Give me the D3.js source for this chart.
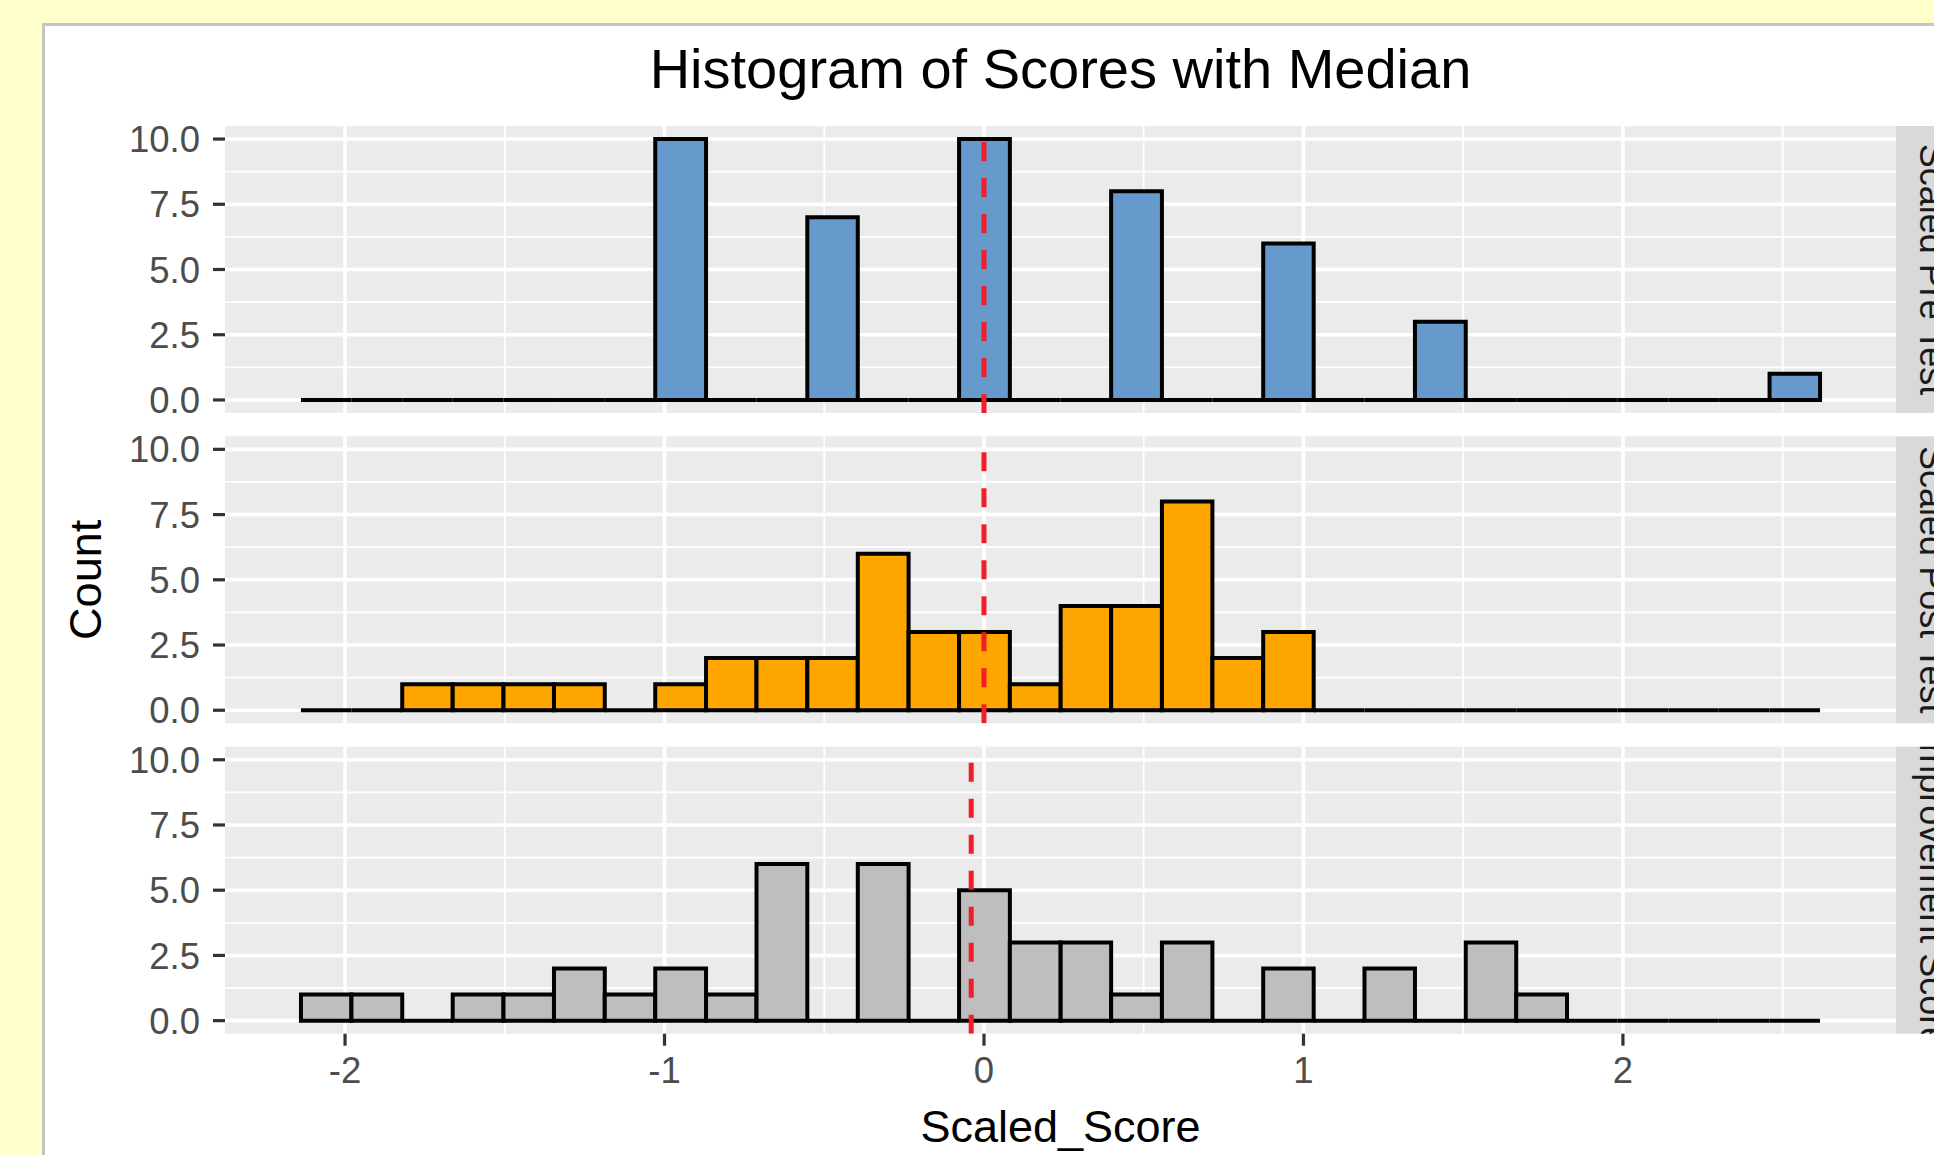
<!DOCTYPE html>
<html>
<head>
<meta charset="utf-8">
<script src="https://cdn.jsdelivr.net/npm/d3@7"></script>
<style>
  html, body { margin: 0; padding: 0; background: #FFFFCC; overflow: hidden; }
  svg { display: block; font-family: "Liberation Sans", Arial, sans-serif; }
</style>
</head>
<body>
<script>
// facet labels, fills and medians
var panels = ["Scaled Pre Test", "Scaled Post Test", "Improvement Score"];
var fills = ["#6699CC", "#FFA500", "#BEBEBE"];
var medians = [0.0, 0.0, -0.04];

// 30 bins, left edges + last right edge
var binEdges = [-2.138, -1.980, -1.821, -1.663, -1.504, -1.346, -1.187, -1.029, -0.870, -0.712,
                -0.553, -0.395, -0.236, -0.078, 0.081, 0.240, 0.398, 0.557, 0.715, 0.874,
                1.032, 1.191, 1.349, 1.508, 1.666, 1.825, 1.983, 2.142, 2.300, 2.459, 2.617];

var preCounts     = [0,0,0,0,0,0,0,10,0,0, 7,0,0,10,0,0,8,0,0,6, 0,0,3,0,0,0,0,0,0,1];
var postCounts    = [0,0,1,1,1,1,0,1,2,2, 2,6,3,3,1,4,4,8,2,3, 0,0,0,0,0,0,0,0,0,0];
var improveCounts = [1,1,0,1,1,2,1,2,1,6, 0,6,0,5,3,3,1,3,0,2, 0,2,0,3,1,0,0,0,0,0];
var counts = [preCounts, postCounts, improveCounts];

var xTicks = [-2, -1, 0, 1, 2];
var xMinor = [-1.5, -0.5, 0.5, 1.5, 2.5];
var yTicks = [0, 2.5, 5, 7.5, 10];
var yMinor = [1.25, 3.75, 6.25, 8.75];

var W = 1934, H = 1155;
var left = 225, right = 1896;
var panelH = 287;
var tops = [126, 436.3, 746.7];

var svg = d3.select("body").append("svg")
    .attr("width", W)
    .attr("height", H);

// white card
svg.append("rect")
    .attr("x", 43.5).attr("y", 24.5)
    .attr("width", W).attr("height", H)
    .attr("fill", "#fff")
    .attr("stroke", "#c4c4c4")
    .attr("stroke-width", 3);

var lo = binEdges[0], hi = binEdges[binEdges.length - 1];
var pad = (hi - lo) * 0.05;
var x = d3.scaleLinear().domain([lo - pad, hi + pad]).range([left, right]);

var defs = svg.append("defs");

panels.forEach(function(name, p) {
    var top = tops[p];
    var y = d3.scaleLinear().domain([-0.5, 10.5]).range([top + panelH, top]);
    var g = svg.append("g");

    defs.append("clipPath").attr("id", "clip" + p)
        .append("rect").attr("x", left).attr("y", top)
        .attr("width", right - left).attr("height", panelH);
    defs.append("clipPath").attr("id", "sclip" + p)
        .append("rect").attr("x", right).attr("y", top)
        .attr("width", 80).attr("height", panelH);

    g.append("rect")
        .attr("x", left).attr("y", top)
        .attr("width", right - left).attr("height", panelH)
        .attr("fill", "#EBEBEB");

    // grid
    g.selectAll(".hmin").data(yMinor).enter().append("line")
        .attr("x1", left).attr("x2", right)
        .attr("y1", function(d) { return y(d); }).attr("y2", function(d) { return y(d); })
        .attr("stroke", "#fff").attr("stroke-width", 1.8);
    g.selectAll(".vmin").data(xMinor).enter().append("line")
        .attr("y1", top).attr("y2", top + panelH)
        .attr("x1", function(d) { return x(d); }).attr("x2", function(d) { return x(d); })
        .attr("stroke", "#fff").attr("stroke-width", 1.8);
    g.selectAll(".hmaj").data(yTicks).enter().append("line")
        .attr("x1", left).attr("x2", right)
        .attr("y1", function(d) { return y(d); }).attr("y2", function(d) { return y(d); })
        .attr("stroke", "#fff").attr("stroke-width", 3.6);
    g.selectAll(".vmaj").data(xTicks).enter().append("line")
        .attr("y1", top).attr("y2", top + panelH)
        .attr("x1", function(d) { return x(d); }).attr("x2", function(d) { return x(d); })
        .attr("stroke", "#fff").attr("stroke-width", 3.6);

    // bars (paths so empty bins still show the baseline)
    var bins = counts[p].map(function(c, i) {
        return { x0: binEdges[i], x1: binEdges[i + 1], n: c };
    });
    g.selectAll(".bar").data(bins).enter().append("path")
        .attr("d", function(d) {
            var pth = d3.path();
            pth.moveTo(x(d.x0), y(0));
            pth.lineTo(x(d.x0), y(d.n));
            pth.lineTo(x(d.x1), y(d.n));
            pth.lineTo(x(d.x1), y(0));
            pth.closePath();
            return pth.toString();
        })
        .attr("fill", fills[p])
        .attr("stroke", "#000")
        .attr("stroke-width", 4)
        .attr("stroke-linejoin", "miter");

    // median line
    g.append("g").attr("clip-path", "url(#clip" + p + ")")
      .append("line")
        .attr("x1", x(medians[p])).attr("x2", x(medians[p]))
        .attr("y1", top + panelH).attr("y2", top)
        .attr("stroke", "#F01E28")
        .attr("stroke-width", 5)
        .attr("stroke-dasharray", "19 17");

    // y axis
    var ya = g.append("g");
    ya.selectAll("line").data(yTicks).enter().append("line")
        .attr("x1", left - 12).attr("x2", left)
        .attr("y1", function(d) { return y(d); }).attr("y2", function(d) { return y(d); })
        .attr("stroke", "#333").attr("stroke-width", 3.2);
    ya.selectAll("text").data(yTicks).enter().append("text")
        .attr("x", 200)
        .attr("y", function(d) { return y(d); })
        .attr("dy", "0.36em")
        .attr("text-anchor", "end")
        .attr("font-size", 36.5)
        .attr("fill", "#4D4D4D")
        .text(function(d) { return d3.format(".1f")(d); });

    // strip
    g.append("rect")
        .attr("x", right).attr("y", top)
        .attr("width", 80).attr("height", panelH)
        .attr("fill", "#D9D9D9");
    g.append("g").attr("clip-path", "url(#sclip" + p + ")")
      .append("text")
        .attr("transform", "translate(1920," + (top + panelH / 2) + ") rotate(90)")
        .attr("text-anchor", "middle")
        .attr("font-size", 36)
        .attr("fill", "#1A1A1A")
        .text(name);
});

// x axis on bottom panel
var bottom = tops[2] + panelH;
var xa = svg.append("g");
xa.selectAll("line").data(xTicks).enter().append("line")
    .attr("x1", function(d) { return x(d); }).attr("x2", function(d) { return x(d); })
    .attr("y1", bottom).attr("y2", bottom + 12)
    .attr("stroke", "#333").attr("stroke-width", 3.2);
xa.selectAll("text").data(xTicks).enter().append("text")
    .attr("x", function(d) { return x(d); })
    .attr("y", 1083)
    .attr("text-anchor", "middle")
    .attr("font-size", 36.5)
    .attr("fill", "#4D4D4D")
    .text(function(d) { return d; });

// titles
svg.append("text")
    .attr("x", (left + right) / 2).attr("y", 88)
    .attr("text-anchor", "middle")
    .attr("font-size", 56)
    .attr("fill", "#000")
    .text("Histogram of Scores with Median");

svg.append("text")
    .attr("x", (left + right) / 2).attr("y", 1142)
    .attr("text-anchor", "middle")
    .attr("font-size", 45)
    .attr("fill", "#000")
    .text("Scaled_Score");

svg.append("text")
    .attr("transform", "translate(101," + ((tops[0] + bottom) / 2) + ") rotate(-90)")
    .attr("text-anchor", "middle")
    .attr("font-size", 45)
    .attr("fill", "#000")
    .text("Count");
</script>
</body>
</html>
